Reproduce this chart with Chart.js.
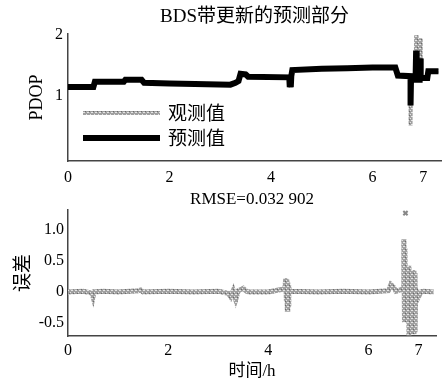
<!DOCTYPE html>
<html>
<head>
<meta charset="utf-8">
<script src="https://cdn.jsdelivr.net/npm/chart.js@4.4.1/dist/chart.umd.min.js"></script>
<style>
  body { margin: 0; background: #fff; }
  canvas { display: block; }
</style>
</head>
<body>
<canvas id="grafico1" width="442" height="186"></canvas>
<canvas id="grafico2" width="442" height="200"></canvas>
<script>
// dados (tempo em horas)
var tempoPred = [0, 0.5, 0.53, 1.1, 1.13, 1.45, 1.5, 2.0, 2.5, 3.2, 3.3, 3.36, 3.4, 3.5, 3.55, 4.36, 4.37, 4.38, 4.39, 4.40,
                 4.42, 5.0, 5.5, 6.0, 6.45, 6.5, 6.75, 6.75, 6.76, 6.85, 6.86, 6.87, 6.93, 6.94, 6.95, 7.08, 7.1, 7.3];
var pdopPred  = [1.15, 1.15, 1.24, 1.24, 1.27, 1.27, 1.22, 1.21, 1.20, 1.19, 1.22, 1.25, 1.37, 1.36, 1.32, 1.31, 1.15, 1.33, 1.15, 1.33,
                 1.43, 1.45, 1.46, 1.47, 1.47, 1.34, 1.33, 0.85, 1.33, 1.33, 1.75, 1.27, 1.27, 1.62, 1.30, 1.30, 1.41, 1.41];
var tempoObs  = [0, 0.5, 0.53, 1.1, 1.13, 1.45, 1.5, 2.0, 2.5, 3.2, 3.3, 3.36, 3.4, 3.5, 3.55, 4.36, 4.37, 4.38, 4.39, 4.40,
                 4.42, 5.0, 5.5, 6.0, 6.45, 6.5, 6.75, 6.75, 6.76, 6.85, 6.86, 6.87, 6.93, 6.94, 6.95, 7.08, 7.1, 7.3];
var pdopObs   = [1.15, 1.15, 1.24, 1.24, 1.27, 1.27, 1.22, 1.21, 1.20, 1.19, 1.22, 1.25, 1.37, 1.36, 1.32, 1.31, 1.14, 1.33, 1.14, 1.33,
                 1.43, 1.45, 1.46, 1.47, 1.47, 1.34, 1.33, 0.52, 1.33, 1.33, 2.00, 1.27, 1.27, 1.95, 1.30, 1.30, 1.41, 1.41];

var tempoErro = [0, 0.3, 0.48, 0.5, 0.52, 0.7, 1.0, 1.4, 1.45, 1.5, 2.0, 2.5, 3.0, 3.2, 3.25, 3.3, 3.35, 3.4, 3.5, 3.55,
                 3.6, 4.0, 4.33, 4.35, 4.36, 4.37, 4.38, 4.39, 4.40, 4.41, 4.42, 4.45, 5.0, 5.5, 6.0, 6.4, 6.45, 6.5, 6.55, 6.7,
                 6.71, 6.72, 6.73, 6.74, 6.8, 6.81, 6.82, 6.83, 6.84, 6.9, 6.91, 6.92, 6.93, 6.94, 7.0, 7.05, 7.1, 7.3];
var erro      = [0, 0.01, -0.02, -0.08, 0, 0.01, 0, 0.02, 0.03, 0, 0.01, 0, 0.01, -0.02, -0.08, 0.02, -0.12, 0.02, 0.06, 0.02,
                 0, 0, 0.05, 0.22, -0.1, 0.2, -0.28, 0.15, -0.2, 0.1, 0, 0.01, 0, 0.01, 0, 0.02, 0.12, 0.08, 0.01, 0.05,
                 0.85, -0.45, 0.7, -0.3, 0.42, -0.7, 0.35, -0.6, 0.1, 0.35, -0.68, 0.3, -0.65, 0.05, -0.08, 0.0, 0.01, 0];
var tempoOutlier = [6.74];
var erroOutlier  = [1.27];

var ticksX = [0, 2, 4, 6, 7];
var ticksPdop = [1, 2];
var ticksErro = [-0.5, 0, 0.5, 1.0];

var titulo1 = 'BDS带更新的预测部分';
var titulo2 = 'RMSE=0.032 902';
var fonte = "'Liberation Serif', 'Noto Sans CJK SC', serif";

Chart.defaults.font.family = fonte;
Chart.defaults.color = '#000';

function pontos(xs, ys){
    var arr = [];
    for(var i = 0; i < xs.length; i++){
        arr.push({x: xs[i], y: ys[i]});
    }
    return arr;
}

// textura cinza pontilhada das linhas "observadas"
function padraoCinza(){
    var c = document.createElement('canvas');
    c.width = 4; c.height = 4;
    var g = c.getContext('2d');
    g.fillStyle = '#a0a0a0';
    g.fillRect(0, 0, 4, 4);
    g.fillStyle = '#e4e4e4';
    g.fillRect(0, 0, 1, 1);
    g.fillRect(2, 2, 1, 1);
    g.fillRect(3, 0, 1, 1);
    g.fillStyle = '#6a6a6a';
    g.fillRect(1, 3, 1, 1);
    return g.createPattern(c, 'repeat');
}
var cinza = padraoCinza();

function fixarTicks(lista){
    return function(scale){
        scale.ticks = lista.map(function(v){ return {value: v}; });
    };
}

// legenda dentro da area do grafico
var legendaInterna = {
    id: 'legendaInterna',
    afterDatasetsDraw: function(chart){
        var ctx = chart.ctx;
        var a = chart.chartArea;
        var itens = [chart.data.datasets[1], chart.data.datasets[0]];
        var ys = [a.top + 79, a.top + 104];
        ctx.save();
        for(var i = 0; i < itens.length; i++){
            ctx.beginPath();
            ctx.strokeStyle = itens[i].borderColor;
            ctx.lineWidth = itens[i].borderWidth;
            ctx.moveTo(a.left + 15, ys[i]);
            ctx.lineTo(a.left + 92, ys[i]);
            ctx.stroke();
            ctx.fillStyle = '#000';
            ctx.font = "19px 'Noto Sans CJK SC'";
            ctx.textBaseline = 'middle';
            ctx.fillText(itens[i].label, a.left + 100, ys[i]);
        }
        ctx.restore();
    }
};

var eixoBorda = {display: true, color: '#444', width: 1.5};
var gradeEixo = {display: true, drawOnChartArea: false, drawTicks: false};

var objInstancia1 = {
    type: 'line',
    data: {
        datasets: [{
            label: '预测值',
            data: pontos(tempoPred, pdopPred),
            borderColor: '#000',
            borderWidth: 6,
            order: 0
        }, {
            label: '观测值',
            data: pontos(tempoObs, pdopObs),
            borderColor: cinza,
            borderWidth: 4,
            order: 1
        }]
    },
    options: {
        responsive: false,
        animation: false,
        layout: {padding: {left: 0, right: 1, top: 0, bottom: 0}},
        elements: {point: {radius: 0}, line: {tension: 0}},
        plugins: {
            legend: {display: false},
            tooltip: {enabled: false},
            title: {
                display: true,
                text: titulo1,
                fullSize: false,
                font: {size: 19, weight: 'normal'},
                padding: {top: 5.5, bottom: 5.7}
            }
        },
        scales: {
            x: {
                type: 'linear', min: 0, max: 7.35,
                afterBuildTicks: fixarTicks(ticksX),
                afterFit: function(s){ s.height = 25; },
                grid: gradeEixo, border: eixoBorda,
                ticks: {font: {size: 16}, padding: 7.4, maxRotation: 0}
            },
            y: {
                min: -0.06, max: 2.02,
                afterBuildTicks: fixarTicks(ticksPdop),
                afterFit: function(s){ s.width = 68; },
                grid: gradeEixo, border: eixoBorda,
                ticks: {font: {size: 16}, padding: 5},
                title: {display: true, text: 'PDOP', font: {size: 18}, padding: {top: 26, bottom: 0}}
            }
        }
    },
    plugins: [legendaInterna]
};

var objInstancia2 = {
    type: 'line',
    data: {
        datasets: [{
            label: '误差',
            data: pontos(tempoErro, erro),
            borderColor: cinza,
            borderWidth: 5
        }, {
            label: 'outlier',
            data: pontos(tempoOutlier, erroOutlier),
            showLine: false,
            pointStyle: 'crossRot',
            pointRadius: 3,
            borderColor: '#888',
            borderWidth: 2
        }]
    },
    options: {
        responsive: false,
        animation: false,
        layout: {padding: {left: 0, right: 1, top: 0, bottom: 0}},
        elements: {point: {radius: 0}, line: {tension: 0}},
        plugins: {
            legend: {display: false},
            tooltip: {enabled: false},
            title: {
                display: true,
                text: titulo2,
                fullSize: false,
                font: {size: 17, weight: 'normal'},
                padding: {top: 3, bottom: 0.6}
            }
        },
        scales: {
            x: {
                type: 'linear', min: 0, max: 7.35,
                afterBuildTicks: fixarTicks(ticksX),
                afterFit: function(s){ s.height = 50; },
                grid: gradeEixo, border: eixoBorda,
                ticks: {font: {size: 16}, padding: 5.4, maxRotation: 0},
                title: {display: true, text: '时间/h', font: {size: 17}, padding: {top: 0, bottom: 4}}
            },
            y: {
                min: -0.71, max: 1.32,
                afterBuildTicks: fixarTicks(ticksErro),
                afterFit: function(s){ s.width = 68; },
                grid: gradeEixo, border: eixoBorda,
                ticks: {
                    font: {size: 16}, padding: 4,
                    callback: function(v){ return v === 0 ? '0' : v.toFixed(1); }
                },
                title: {display: true, text: '误差', font: {size: 19}, padding: {top: 12.6, bottom: 0}}
            }
        }
    }
};

var graficoUm = new Chart(document.getElementById('grafico1').getContext('2d'), objInstancia1);
var graficoDois = new Chart(document.getElementById('grafico2').getContext('2d'), objInstancia2);
</script>
</body>
</html>
